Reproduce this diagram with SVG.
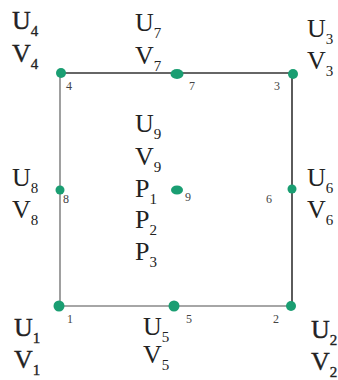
<svg xmlns="http://www.w3.org/2000/svg" width="338" height="380" viewBox="0 0 338 380">
<style>
.t{font-family:"Liberation Serif","Times New Roman",serif;font-size:26px;fill:#222}
.b{stroke:#222;stroke-width:0.35}
.s{font-size:15px}
.n{font-family:"Liberation Serif","Times New Roman",serif;font-size:12px;fill:#444}
.dot{fill:#1a9e72}
.e1{stroke:#333;stroke-width:1.6;fill:none}
.e2{stroke:#888;stroke-width:1.6;fill:none}
</style>
<rect width="338" height="380" fill="#fff"/>
<g id="connectors">
<line class="e1" x1="61" y1="73" x2="293" y2="73"/>
<line class="e1" x1="292" y1="73" x2="292" y2="306"/>
<line class="e2" x1="60" y1="73" x2="60" y2="306"/>
<line class="e2" x1="60" y1="306" x2="292" y2="306"/>
</g>
<g id="node4"><circle class="dot" cx="61" cy="73" r="5"/><text class="n" x="66" y="90">4</text>
<text class="t b" x="12" y="29">U<tspan class="s" dy="7">4</tspan></text>
<text class="t b" x="12" y="62">V<tspan class="s" dy="7">4</tspan></text></g>
<g id="node7"><ellipse class="dot" cx="177" cy="74" rx="6.5" ry="5"/><text class="n" x="189" y="90">7</text>
<text class="t" x="135" y="31">U<tspan class="s" dy="7">7</tspan></text>
<text class="t" x="135" y="64">V<tspan class="s" dy="7">7</tspan></text></g>
<g id="node3"><circle class="dot" cx="293" cy="74" r="5"/><text class="n" x="274" y="90">3</text>
<text class="t" x="307" y="37">U<tspan class="s" dy="7">3</tspan></text>
<text class="t" x="307" y="69">V<tspan class="s" dy="7">3</tspan></text></g>
<g id="node8"><circle class="dot" cx="60" cy="190" r="4.5"/><text class="n" x="63" y="203">8</text>
<text class="t" x="12" y="186">U<tspan class="s" dy="7">8</tspan></text>
<text class="t" x="12" y="218">V<tspan class="s" dy="7">8</tspan></text></g>
<g id="node9"><ellipse class="dot" cx="177" cy="190" rx="6" ry="4.5"/><text class="n" x="185" y="201">9</text>
<text class="t" x="135" y="132">U<tspan class="s" dy="7">9</tspan></text>
<text class="t" x="135" y="165">V<tspan class="s" dy="7">9</tspan></text>
<text class="t" x="135" y="197">P<tspan class="s" dy="7">1</tspan></text>
<text class="t" x="135" y="228">P<tspan class="s" dy="7">2</tspan></text>
<text class="t" x="135" y="260">P<tspan class="s" dy="7">3</tspan></text></g>
<g id="node6"><circle class="dot" cx="292" cy="189" r="4.5"/><text class="n" x="266" y="203">6</text>
<text class="t" x="307" y="186">U<tspan class="s" dy="7">6</tspan></text>
<text class="t" x="307" y="218">V<tspan class="s" dy="7">6</tspan></text></g>
<g id="node1"><circle class="dot" cx="59" cy="306" r="5.5"/><text class="n" x="67" y="323">1</text>
<text class="t b" x="14" y="336">U<tspan class="s" dy="7">1</tspan></text>
<text class="t b" x="14" y="368">V<tspan class="s" dy="7">1</tspan></text></g>
<g id="node5"><circle class="dot" cx="174" cy="306" r="5.5"/><text class="n" x="186" y="323">5</text>
<text class="t" x="143" y="335">U<tspan class="s" dy="7">5</tspan></text>
<text class="t" x="143" y="363">V<tspan class="s" dy="7">5</tspan></text></g>
<g id="node2"><circle class="dot" cx="291" cy="306" r="5"/><text class="n" x="273" y="323">2</text>
<text class="t b" x="311" y="338">U<tspan class="s" dy="7">2</tspan></text>
<text class="t b" x="311" y="370">V<tspan class="s" dy="7">2</tspan></text></g>
</svg>
